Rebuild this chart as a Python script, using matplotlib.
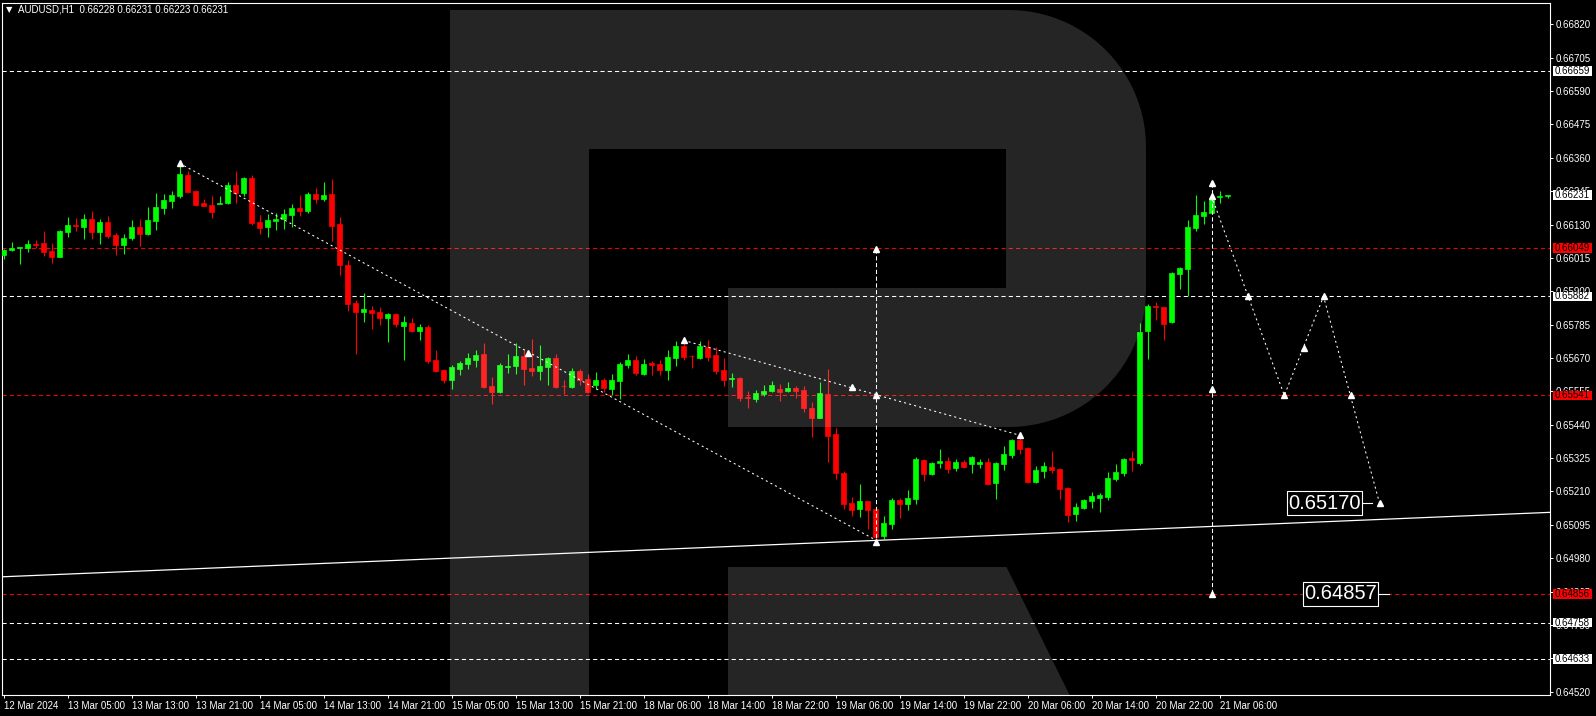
import numpy as np
import matplotlib.pyplot as plt
from matplotlib.patches import Polygon, Rectangle
from matplotlib.transforms import IdentityTransform

plt.rcParams['font.family'] = ['Liberation Sans', 'DejaVu Sans']

# AUDUSD H1, first bar 12 Mar 21:00
opens = [0.66025, 0.66042, 0.66048, 0.66050, 0.66062, 0.66065, 0.66039, 0.66019, 0.66105, 0.66127,
         0.66123, 0.66149, 0.66105, 0.66139, 0.66094, 0.66059, 0.66084, 0.66122, 0.66097, 0.66143,
         0.66186, 0.66211, 0.66228, 0.66301, 0.66246, 0.66204, 0.66197, 0.66200, 0.66204, 0.66266,
         0.66239, 0.66290, 0.66140, 0.66122, 0.66143, 0.66149, 0.66163, 0.66187, 0.66177, 0.66236,
         0.66218, 0.66236, 0.66132, 0.65991, 0.65860, 0.65829, 0.65835, 0.65829, 0.65809, 0.65822,
         0.65781, 0.65791, 0.65763, 0.65777, 0.65663, 0.65629, 0.65595, 0.65632, 0.65649, 0.65663,
         0.65684, 0.65574, 0.65553, 0.65639, 0.65643, 0.65677, 0.65636, 0.65625, 0.65639, 0.65670,
         0.65575, 0.65570, 0.65625, 0.65598, 0.65577, 0.65594, 0.65563, 0.65591, 0.65646, 0.65663,
         0.65615, 0.65654, 0.65649, 0.65629, 0.65670, 0.65712, 0.65678, 0.65670, 0.65708, 0.65680,
         0.65629, 0.65597, 0.65601, 0.65534, 0.65529, 0.65546, 0.65556, 0.65563, 0.65556, 0.65567,
         0.65560, 0.65498, 0.65463, 0.65546, 0.65408, 0.65274, 0.65170, 0.65151, 0.65177, 0.65150,
         0.65057, 0.65098, 0.65181, 0.65167, 0.65184, 0.65319, 0.65270, 0.65309, 0.65315, 0.65291,
         0.65312, 0.65305, 0.65305, 0.65312, 0.65239, 0.65305, 0.65336, 0.65388, 0.65360, 0.65243,
         0.65281, 0.65294, 0.65288, 0.65222, 0.65132, 0.65153, 0.65177, 0.65188, 0.65191, 0.65253,
         0.65274, 0.65325, 0.65309, 0.65764, 0.65848, 0.65846, 0.65794, 0.65960, 0.65977, 0.66118,
         0.66159, 0.66170, 0.66226, 0.66228]
highs = [0.66046, 0.66069, 0.66052, 0.66077, 0.66077, 0.66108, 0.66065, 0.66111, 0.66157, 0.66152,
         0.66166, 0.66177, 0.66148, 0.66159, 0.66100, 0.66097, 0.66146, 0.66149, 0.66190, 0.66240,
         0.66235, 0.66246, 0.66341, 0.66314, 0.66249, 0.66218, 0.66228, 0.66228, 0.66276, 0.66314,
         0.66295, 0.66301, 0.66163, 0.66166, 0.66171, 0.66183, 0.66201, 0.66232, 0.66242, 0.66256,
         0.66277, 0.66287, 0.66156, 0.66008, 0.65870, 0.65894, 0.65849, 0.65845, 0.65824, 0.65824,
         0.65815, 0.65808, 0.65787, 0.65784, 0.65698, 0.65631, 0.65646, 0.65661, 0.65688, 0.65698,
         0.65723, 0.65605, 0.65653, 0.65684, 0.65722, 0.65698, 0.65736, 0.65715, 0.65672, 0.65684,
         0.65594, 0.65636, 0.65632, 0.65615, 0.65622, 0.65601, 0.65615, 0.65656, 0.65684, 0.65677,
         0.65667, 0.65660, 0.65663, 0.65698, 0.65729, 0.65732, 0.65680, 0.65729, 0.65732, 0.65708,
         0.65670, 0.65618, 0.65603, 0.65556, 0.65560, 0.65577, 0.65591, 0.65580, 0.65587, 0.65574,
         0.65574, 0.65518, 0.65587, 0.65632, 0.65429, 0.65281, 0.65192, 0.65236, 0.65178, 0.65151,
         0.65126, 0.65189, 0.65189, 0.65215, 0.65328, 0.65322, 0.65312, 0.65357, 0.65329, 0.65322,
         0.65319, 0.65332, 0.65322, 0.65325, 0.65312, 0.65367, 0.65391, 0.65401, 0.65362, 0.65298,
         0.65312, 0.65350, 0.65290, 0.65226, 0.65170, 0.65184, 0.65208, 0.65205, 0.65277, 0.65305,
         0.65325, 0.65350, 0.65792, 0.65856, 0.65863, 0.65847, 0.65965, 0.65982, 0.66146, 0.66232,
         0.66211, 0.66249, 0.66246, 0.66231]
lows = [0.66010, 0.66040, 0.65995, 0.66036, 0.66048, 0.66023, 0.65996, 0.66019, 0.66088, 0.66109,
        0.66081, 0.66081, 0.66064, 0.66085, 0.66025, 0.66029, 0.66077, 0.66056, 0.66094, 0.66111,
        0.66166, 0.66188, 0.66222, 0.66240, 0.66195, 0.66195, 0.66154, 0.66200, 0.66201, 0.66203,
        0.66229, 0.66128, 0.66098, 0.66087, 0.66111, 0.66115, 0.66121, 0.66160, 0.66171, 0.66205,
        0.66212, 0.66074, 0.65957, 0.65832, 0.65685, 0.65794, 0.65770, 0.65784, 0.65725, 0.65778,
        0.65663, 0.65760, 0.65732, 0.65654, 0.65622, 0.65585, 0.65564, 0.65612, 0.65632, 0.65639,
        0.65568, 0.65513, 0.65550, 0.65619, 0.65615, 0.65577, 0.65608, 0.65594, 0.65577, 0.65568,
        0.65546, 0.65567, 0.65577, 0.65550, 0.65563, 0.65553, 0.65543, 0.65529, 0.65636, 0.65612,
        0.65612, 0.65612, 0.65612, 0.65594, 0.65643, 0.65663, 0.65636, 0.65667, 0.65660, 0.65615,
        0.65574, 0.65570, 0.65522, 0.65498, 0.65518, 0.65539, 0.65553, 0.65522, 0.65553, 0.65532,
        0.65484, 0.65398, 0.65463, 0.65312, 0.65253, 0.65150, 0.65127, 0.65122, 0.65081, 0.65043,
        0.65045, 0.65081, 0.65120, 0.65146, 0.65168, 0.65247, 0.65268, 0.65291, 0.65274, 0.65281,
        0.65292, 0.65274, 0.65291, 0.65234, 0.65184, 0.65284, 0.65325, 0.65339, 0.65240, 0.65240,
        0.65257, 0.65274, 0.65184, 0.65105, 0.65108, 0.65150, 0.65153, 0.65139, 0.65181, 0.65246,
        0.65263, 0.65281, 0.65301, 0.65667, 0.65801, 0.65732, 0.65792, 0.65908, 0.65884, 0.66108,
        0.66132, 0.66168, 0.66205, 0.66223]
closes = [0.66042, 0.66050, 0.66051, 0.66063, 0.66060, 0.66036, 0.66019, 0.66108, 0.66128, 0.66125,
          0.66149, 0.66105, 0.66139, 0.66091, 0.66059, 0.66083, 0.66122, 0.66097, 0.66146, 0.66190,
          0.66215, 0.66232, 0.66304, 0.66243, 0.66197, 0.66195, 0.66174, 0.66205, 0.66266, 0.66240,
          0.66291, 0.66136, 0.66119, 0.66146, 0.66148, 0.66166, 0.66187, 0.66177, 0.66236, 0.66218,
          0.66232, 0.66125, 0.65991, 0.65857, 0.65830, 0.65839, 0.65825, 0.65809, 0.65822, 0.65788,
          0.65794, 0.65763, 0.65777, 0.65660, 0.65625, 0.65594, 0.65639, 0.65653, 0.65670, 0.65680,
          0.65570, 0.65553, 0.65646, 0.65643, 0.65677, 0.65632, 0.65625, 0.65643, 0.65670, 0.65570,
          0.65572, 0.65625, 0.65594, 0.65553, 0.65594, 0.65567, 0.65594, 0.65649, 0.65663, 0.65618,
          0.65649, 0.65646, 0.65629, 0.65674, 0.65712, 0.65674, 0.65676, 0.65712, 0.65674, 0.65625,
          0.65594, 0.65600, 0.65532, 0.65531, 0.65550, 0.65556, 0.65577, 0.65553, 0.65567, 0.65556,
          0.65498, 0.65463, 0.65550, 0.65401, 0.65274, 0.65167, 0.65147, 0.65177, 0.65147, 0.65054,
          0.65100, 0.65181, 0.65167, 0.65188, 0.65322, 0.65270, 0.65308, 0.65316, 0.65288, 0.65312,
          0.65294, 0.65329, 0.65312, 0.65236, 0.65308, 0.65339, 0.65388, 0.65357, 0.65243, 0.65284,
          0.65298, 0.65284, 0.65219, 0.65129, 0.65157, 0.65181, 0.65194, 0.65198, 0.65256, 0.65277,
          0.65322, 0.65319, 0.65761, 0.65849, 0.65845, 0.65788, 0.65963, 0.65980, 0.66122, 0.66163,
          0.66173, 0.66221, 0.66229, 0.66231]

time_labels = ['12 Mar 2024', '13 Mar 05:00', '13 Mar 13:00', '13 Mar 21:00', '14 Mar 05:00',
               '14 Mar 13:00', '14 Mar 21:00', '15 Mar 05:00', '15 Mar 13:00', '15 Mar 21:00',
               '18 Mar 06:00', '18 Mar 14:00', '18 Mar 22:00', '19 Mar 06:00', '19 Mar 14:00',
               '19 Mar 22:00', '20 Mar 06:00', '20 Mar 14:00', '20 Mar 22:00', '21 Mar 06:00']
label_every = 8

price_ticks = [0.64520, 0.64635, 0.64750, 0.64865, 0.64980, 0.65095, 0.65210, 0.65325, 0.65440,
               0.65555, 0.65670, 0.65785, 0.65900, 0.66015, 0.66130, 0.66245, 0.66360, 0.66475,
               0.66590, 0.66705, 0.66820]

white_levels = [0.66659, 0.65882, 0.64758, 0.64633]
red_levels = [0.66049, 0.65541, 0.64856]
last_price = 0.66231

# drawn objects (bar index, price)
support_x = [-1, 195]
support_y = [0.64915, 0.65140]
fall1_x = [22, 109]
fall1_y = [0.66341, 0.65043]
fall2_x = [85, 127]
fall2_y = [0.65731, 0.65404]
vert1_x = 109
vert1_y = [0.66046, 0.65043]
vert2_x = 151
vert2_y = [0.66272, 0.64856]
fc_x = [151, 160.1, 165, 172]
fc_y = [0.66228, 0.65541, 0.65882, 0.65170]
arrow_x = [22, 65.5, 85, 106, 127, 109, 109, 109, 151, 151, 151, 151, 155.5, 160.1, 162.5, 165, 168.4, 172]
arrow_y = [0.66341, 0.65687, 0.65731, 0.65571, 0.65404, 0.66046, 0.65541, 0.65035,
           0.66272, 0.66228, 0.65562, 0.64856, 0.65882, 0.65541, 0.65706, 0.65882, 0.65541, 0.65170]
target1 = 0.65170
target2 = 0.64857

W, H = 1596, 716
fig = plt.figure(figsize=(W / 100, H / 100), dpi=100, facecolor='black')
ax = fig.add_axes([2 / W, 1 - 695 / H, 1548 / W, 692 / H])
ax.set_facecolor('black')
ax.set_xlim(-0.19, 193.31)
ax.set_ylim(0.645086, 0.668934)

for s in ax.spines.values():
    s.set_color('white')
    s.set_linewidth(0.8)

o = np.array(opens); h = np.array(highs); l = np.array(lows); c = np.array(closes)
x = np.arange(len(o))
cols = np.where(c >= o, '#00ff00', '#ff0000')
ax.vlines(x, l, h, colors=cols, lw=0.8, zorder=3)
ax.bar(x, np.abs(c - o), bottom=np.minimum(o, c), width=0.6, color=cols,
       edgecolor=cols, linewidth=0.5, zorder=4)

# levels
for p in white_levels:
    ax.axhline(p, color='white', lw=0.75, dashes=(4, 3), zorder=2)
for p in red_levels:
    ax.axhline(p, color='#f00000', lw=0.75, dashes=(4, 3), zorder=2)

ax.plot(support_x, support_y, color='white', lw=0.9, zorder=5)
ax.plot(fall1_x, fall1_y, color='white', lw=0.75, dashes=(2, 3), zorder=5)
ax.plot(fall2_x, fall2_y, color='white', lw=0.75, dashes=(2, 3), zorder=5)
ax.plot([vert1_x, vert1_x], vert1_y, color='white', lw=0.75, dashes=(4, 2.5), zorder=5)
ax.plot([vert2_x, vert2_x], vert2_y, color='white', lw=0.75, dashes=(4, 2.5), zorder=5)
ax.plot(fc_x, fc_y, color='white', lw=0.75, dashes=(2, 3), zorder=5)
ax.plot(arrow_x, arrow_y, ls='none', marker='^', ms=4, color='white', zorder=6)

# watermark "R" (pixel coords, y from top)
def disp(pts):
    return [(px, H - py) for px, py in pts]

t = np.linspace(0, np.pi / 2, 24)
outline = [(450, 10), (1009, 10)]
outline += [(1009 + 137 * np.cos(a), 147 - 137 * np.sin(a)) for a in t[::-1]]
outline += [(1009 + 137 * np.cos(a), 290 + 137 * np.sin(a)) for a in t]
outline += [(728, 427), (728, 288), (1006, 288), (1006, 149), (589, 149), (589, 700), (450, 700)]
leg = [(728, 567), (1006.5, 567), (1072, 700), (728, 700)]
for shape in (outline, leg):
    ax.add_patch(Polygon(disp(shape), closed=True, transform=IdentityTransform(),
                         fc=(1, 1, 1, 0.15), ec='none', zorder=7))

# axes ticks / labels
ax.yaxis.tick_right()
ax.set_yticks(price_ticks)
ax.set_yticklabels([f'{v:.5f}' for v in price_ticks])
ax.tick_params(axis='y', colors='white', labelsize=7, length=2.2, width=0.7, pad=2)
ax.set_xticks(np.arange(len(time_labels)) * label_every)
ax.set_xticklabels(time_labels, ha='left')
ax.tick_params(axis='x', colors='white', labelsize=7, length=2.2, width=0.7, pad=2)
for lab in ax.get_xticklabels():
    lab.set_x(lab.get_position()[0])

fig.canvas.draw()

def ypix(p):
    return ax.transData.transform((0, p))[1]

# price boxes on the axis
boxes = [(p, 'white') for p in white_levels] + [(p, '#ff0000') for p in red_levels] + [(last_price, 'white')]
for p, fcol in boxes:
    yy = ypix(p)
    fig.add_artist(Rectangle((1553, yy - 4.8), 38.5, 9.6, transform=IdentityTransform(),
                             fc=fcol, ec='none', zorder=10))
    fig.text(1555 / W, yy / H, f'{p:.5f}', color='black', fontsize=7, va='center', ha='left', zorder=11)

# forecast target labels
for ci, p, xr in [(165.1, target1, 171.0), (167.1, target2, 173.2)]:
    cx, cy = ax.transData.transform((ci, p))
    rx = cx + 37.5
    fig.add_artist(Rectangle((cx - 37.5, cy - 12), 75, 24, transform=IdentityTransform(),
                             fc='black', ec='white', lw=0.8, zorder=10))
    fig.text(cx / W, cy / H, f'{p:.5f}', color='white', fontsize=14.5, va='center', ha='center', zorder=11)
    ax.plot([ax.transData.inverted().transform((rx, cy))[0], xr], [p, p], color='white', lw=0.8, zorder=9)

# title
fig.text(6 / W, 1 - 10 / H, '\u25bc', color='white', fontsize=6, va='center', ha='left', family='DejaVu Sans')
fig.text(18 / W, 1 - 10 / H, 'AUDUSD,H1  0.66228 0.66231 0.66223 0.66231', color='white',
         fontsize=7, va='center', ha='left')

fig.savefig('out.png', dpi=100, facecolor='black')
